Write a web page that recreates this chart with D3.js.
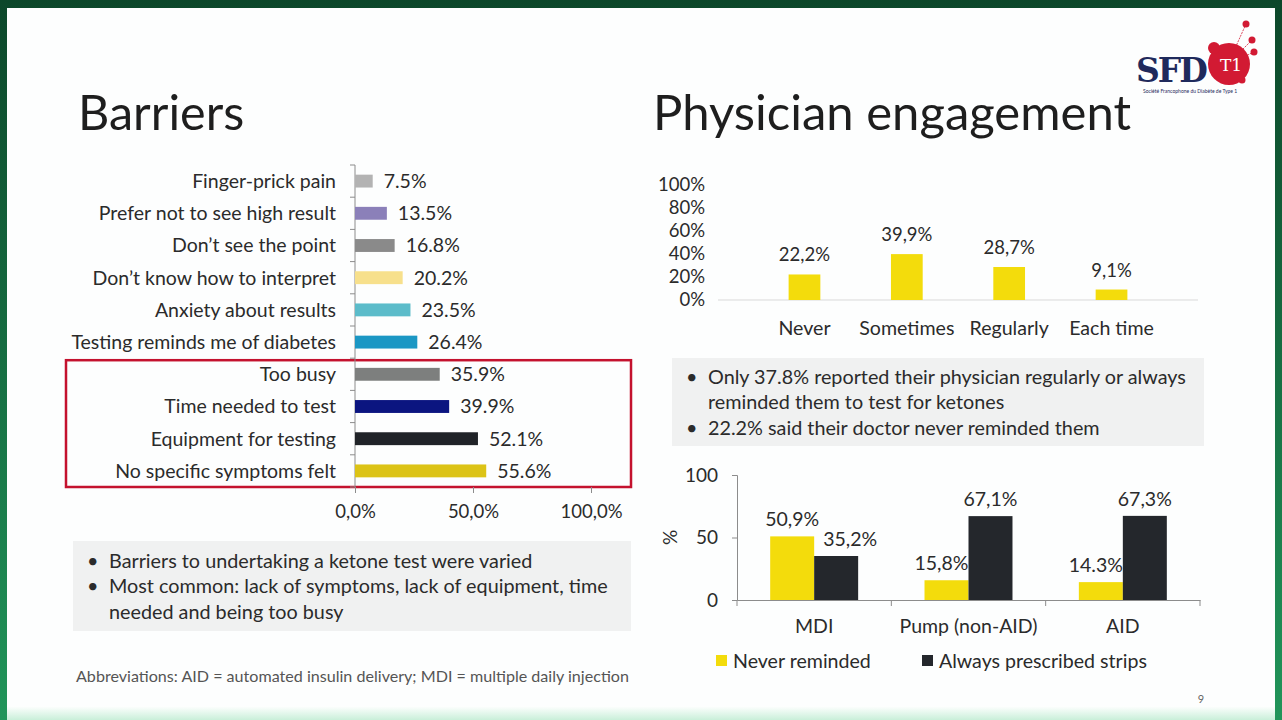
<!DOCTYPE html>
<html>
<head>
<meta charset="utf-8">
<script src="https://cdn.jsdelivr.net/npm/d3@7"></script>
<style>
  html, body { margin: 0; padding: 0; background: #fff; overflow: hidden; }
  svg { display: block; font-family: Lato, "Open Sans", sans-serif; }
</style>
</head>
<body>
<div id="slide"></div>
<script>
// Barriers (left chart)
var barrierNames = ["Finger-prick pain", "Prefer not to see high result", "Don\u2019t see the point",
    "Don\u2019t know how to interpret", "Anxiety about results", "Testing reminds me of diabetes",
    "Too busy", "Time needed to test", "Equipment for testing", "No specific symptoms felt"];
var barrierValues = [7.5, 13.5, 16.8, 20.2, 23.5, 26.4, 35.9, 39.9, 52.1, 55.6];
var barrierColors = ["#b3b3b3", "#8b80b9", "#8a8a8a", "#f7e08c", "#5cbcca", "#1b97c4",
    "#7d7f7e", "#0b1580", "#202328", "#dcc316"];
var barrierTicks = [0, 50, 100];
var highlighted = ["Too busy", "Time needed to test", "Equipment for testing", "No specific symptoms felt"];

// Physician engagement (top right)
var remindCats = ["Never", "Sometimes", "Regularly", "Each time"];
var remindValues = [22.2, 39.9, 28.7, 9.1];
var remindLabels = ["22,2%", "39,9%", "28,7%", "9,1%"];
var remindTicks = [0, 20, 40, 60, 80, 100];

// By insulin delivery (bottom right)
var deliveryCats = ["MDI", "Pump (non-AID)", "AID"];
var seriesNames = ["Never reminded", "Always prescribed strips"];
var neverReminded = [50.9, 15.8, 14.3];
var alwaysStrips = [35.2, 67.1, 67.3];
var neverLabels = ["50,9%", "15,8%", "14.3%"];
var alwaysLabels = ["35,2%", "67,1%", "67,3%"];
var seriesColors = ["#f3dc0c", "#24272c"];
var deliveryTicks = [0, 50, 100];

var leftBullets = [
    ["Barriers to undertaking a ketone test were varied"],
    ["Most common: lack of symptoms, lack of equipment, time", "needed and being too busy"]];
var rightBullets = [
    ["Only 37.8% reported their physician regularly or always", "reminded them to test for ketones"],
    ["22.2% said their doctor never reminded them"]];

var W = 1282, H = 720;
var textColor = "#2b2b2b";

var svg = d3.select("#slide").append("svg")
    .attr("width", W)
    .attr("height", H);

// slide frame
var defs = svg.append("defs");
var sideGrad = defs.append("linearGradient").attr("id", "sideGrad")
    .attr("x1", 0).attr("y1", 0).attr("x2", 0).attr("y2", 1);
sideGrad.append("stop").attr("offset", "0%").attr("stop-color", "#0c472a");
sideGrad.append("stop").attr("offset", "100%").attr("stop-color", "#21955a");
var bottomGrad = defs.append("linearGradient").attr("id", "bottomGrad")
    .attr("x1", 0).attr("y1", 0).attr("x2", 0).attr("y2", 1);
bottomGrad.append("stop").attr("offset", "0%").attr("stop-color", "#ffffff");
bottomGrad.append("stop").attr("offset", "100%").attr("stop-color", "#c9efd9");

svg.append("rect").attr("width", W).attr("height", H).attr("fill", "url(#sideGrad)");
svg.append("rect").attr("x", 7).attr("y", 8).attr("width", W - 14).attr("height", H - 8).attr("fill", "#fdfefe");
svg.append("rect").attr("x", 7).attr("y", 706).attr("width", W - 14).attr("height", 14).attr("fill", "url(#bottomGrad)");

// titles
svg.append("text").attr("x", 78).attr("y", 130)
    .style("font-size", "48.5px").style("fill", "#1e1e1e").text("Barriers");
svg.append("text").attr("x", 653).attr("y", 130)
    .style("font-size", "49px").style("fill", "#1e1e1e").text("Physician engagement");

// logo
var logo = svg.append("g").attr("class", "logo");
var spokes = [[1246, 24], [1254, 52], [1242, 80], [1252, 40]];
spokes.forEach(function(p) {
    logo.append("line").attr("x1", 1228).attr("y1", 64).attr("x2", p[0]).attr("y2", p[1])
        .attr("stroke", "#d21a33").attr("stroke-width", 0.8).attr("stroke-dasharray", "2,1");
    logo.append("circle").attr("cx", p[0]).attr("cy", p[1]).attr("r", 3.5).attr("fill", "#d21a33");
});
logo.append("circle").attr("cx", 1229).attr("cy", 64).attr("r", 21).attr("fill", "#d21a33");
logo.append("circle").attr("cx", 1214).attr("cy", 48).attr("r", 6).attr("fill", "#d21a33");
logo.append("text").attr("x", 1136).attr("y", 82)
    .style("font-family", "'DejaVu Serif', serif").style("font-weight", "bold")
    .style("font-size", "33px").style("fill", "#1f2a5c").style("letter-spacing", "-2px").text("SFD");
logo.append("text").attr("x", 1231).attr("y", 71).attr("text-anchor", "middle")
    .style("font-family", "'DejaVu Serif', serif").style("font-size", "17px")
    .style("fill", "#fff").text("T1");
logo.append("text").attr("x", 1143).attr("y", 93)
    .style("font-size", "5px").style("fill", "#1f2a5c")
    .text("Soci\u00e9t\u00e9 Francophone du Diab\u00e8te de Type 1");

// ---------- Barriers chart ----------
var bTop = 165, bBottom = 487, bLeft = 355;
var by = d3.scaleBand()
    .domain(barrierNames)
    .range([bTop, bBottom])
    .paddingInner(0.6)
    .paddingOuter(0.3);
var bx = d3.scaleLinear().domain([0, 100]).range([bLeft, 591]);

var bg = svg.append("g").attr("class", "barriers");

// red highlight box
var boxTop = by(highlighted[0]) - by.step() * 0.3 + 2;
bg.append("rect")
    .attr("x", 66).attr("y", boxTop)
    .attr("width", 565).attr("height", bBottom - boxTop)
    .attr("fill", "none").attr("stroke", "#c4122e").attr("stroke-width", 2.5);

// category axis line with ticks between categories
bg.append("line").attr("x1", bLeft).attr("x2", bLeft).attr("y1", bTop).attr("y2", bBottom)
    .attr("stroke", "#8c8c8c").attr("stroke-width", 1);
d3.range(barrierNames.length + 1).forEach(function(i) {
    var yy = bTop + i * by.step();
    bg.append("line").attr("x1", bLeft - 5).attr("x2", bLeft).attr("y1", yy).attr("y2", yy)
        .attr("stroke", "#8c8c8c");
});

bg.selectAll("rect.bar")
    .data(barrierValues)
    .enter()
    .append("rect")
    .attr("class", "bar")
    .attr("x", bx(0))
    .attr("y", function(d, i) { return by(barrierNames[i]); })
    .attr("width", function(d) { return bx(d) - bx(0); })
    .attr("height", by.bandwidth())
    .attr("fill", function(d, i) { return barrierColors[i]; });

bg.selectAll("text.cat")
    .data(barrierNames)
    .enter()
    .append("text")
    .attr("class", "cat")
    .attr("x", 336)
    .attr("y", function(d) { return by(d) + by.bandwidth() / 2; })
    .attr("dy", "0.35em")
    .attr("text-anchor", "end")
    .style("font-size", "19.5px").style("fill", textColor)
    .text(function(d) { return d; });

bg.selectAll("text.val")
    .data(barrierValues)
    .enter()
    .append("text")
    .attr("class", "val")
    .attr("x", function(d) { return bx(d) + 11; })
    .attr("y", function(d, i) { return by(barrierNames[i]) + by.bandwidth() / 2; })
    .attr("dy", "0.35em")
    .style("font-size", "19.5px").style("fill", textColor)
    .text(function(d) { return d.toFixed(1) + "%"; });

var bxAxis = bg.append("g")
    .attr("transform", "translate(0," + bBottom + ")")
    .call(d3.axisBottom(bx).tickValues(barrierTicks).tickSize(6).tickPadding(12)
        .tickFormat(function(d) { return d3.format(".1f")(d).replace(".", ",") + "%"; }));
bxAxis.select(".domain").remove();
bxAxis.selectAll("line").attr("stroke", "#8c8c8c");
bxAxis.selectAll("text").style("font-size", "18.5px").style("fill", textColor)
    .style("font-family", "Lato, sans-serif");

// ---------- bullet boxes ----------
function bulletBox(x, y, w, h, items, firstY) {
    var g = svg.append("g");
    g.append("rect").attr("x", x).attr("y", y).attr("width", w).attr("height", h).attr("fill", "#f0f1f1");
    var line = 0;
    items.forEach(function(item) {
        g.append("text").attr("x", x + 14).attr("y", firstY + line * 25.3)
            .attr("dy", "0.35em").style("font-size", "19.8px").style("fill", textColor).text("\u2022");
        item.forEach(function(t) {
            g.append("text").attr("x", x + 36).attr("y", firstY + line * 25.3)
                .attr("dy", "0.35em").style("font-size", "19.8px").style("fill", textColor).text(t);
            line++;
        });
    });
}
bulletBox(73, 541, 558, 90, leftBullets, 561);
bulletBox(672, 358, 532, 88, rightBullets, 377);

svg.append("text").attr("x", 76).attr("y", 676).attr("dy", "0.35em")
    .style("font-size", "16.1px").style("fill", "#555")
    .text("Abbreviations: AID = automated insulin delivery; MDI = multiple daily injection");
svg.append("text").attr("x", 1201).attr("y", 699).attr("dy", "0.35em").attr("text-anchor", "middle")
    .style("font-size", "11px").style("fill", "#666").text("9");

// ---------- Physician engagement chart ----------
var rx = d3.scaleBand().domain(remindCats).range([718, 1198]).padding(0.69);
var ry = d3.scaleLinear().domain([0, 100]).range([300, 185]);
var rg = svg.append("g").attr("class", "remind");

rg.append("line").attr("x1", 718).attr("x2", 1198).attr("y1", ry(0)).attr("y2", ry(0))
    .attr("stroke", "#d9d9d9").attr("stroke-width", 1);

rg.selectAll("rect")
    .data(remindValues)
    .enter()
    .append("rect")
    .attr("x", function(d, i) { return rx(remindCats[i]); })
    .attr("y", function(d) { return ry(d); })
    .attr("width", rx.bandwidth())
    .attr("height", function(d) { return ry(0) - ry(d); })
    .attr("fill", "#f3dc0c");

rg.selectAll("text.val")
    .data(remindValues)
    .enter()
    .append("text")
    .attr("class", "val")
    .attr("x", function(d, i) { return rx(remindCats[i]) + rx.bandwidth() / 2; })
    .attr("y", function(d) { return ry(d) - 13; })
    .attr("text-anchor", "middle")
    .style("font-size", "18.5px").style("fill", textColor)
    .text(function(d, i) { return remindLabels[i]; });

var ryAxis = rg.append("g")
    .attr("transform", "translate(718,0)")
    .call(d3.axisLeft(ry).tickValues(remindTicks).tickSize(0).tickPadding(13)
        .tickFormat(function(d) { return d + "%"; }));
ryAxis.select(".domain").remove();
ryAxis.selectAll("text").style("font-size", "18.5px").style("fill", textColor)
    .style("font-family", "Lato, sans-serif");

var rxAxis = rg.append("g")
    .attr("transform", "translate(0," + ry(0) + ")")
    .call(d3.axisBottom(rx).tickSize(0).tickPadding(21));
rxAxis.select(".domain").remove();
rxAxis.selectAll("text").style("font-size", "19.6px").style("fill", textColor)
    .style("font-family", "Lato, sans-serif");

// ---------- By delivery method chart ----------
var dx0 = d3.scaleBand().domain(deliveryCats).range([737, 1200]).paddingInner(0.43).paddingOuter(0.215);
var dx1 = d3.scaleBand().domain(seriesNames).range([0, dx0.bandwidth()]);
var dy = d3.scaleLinear().domain([0, 100]).range([600, 475]);
var dg = svg.append("g").attr("class", "delivery");

var seriesValues = [neverReminded, alwaysStrips];
var seriesLabels = [neverLabels, alwaysLabels];
var labelNodes = [[], []];

seriesNames.forEach(function(s, si) {
    dg.selectAll("rect.s" + si)
        .data(seriesValues[si])
        .enter()
        .append("rect")
        .attr("class", "s" + si)
        .attr("x", function(d, i) { return dx0(deliveryCats[i]) + dx1(s); })
        .attr("y", function(d) { return dy(d); })
        .attr("width", dx1.bandwidth())
        .attr("height", function(d) { return dy(0) - dy(d); })
        .attr("fill", seriesColors[si]);

    dg.selectAll("text.l" + si)
        .data(seriesValues[si])
        .enter()
        .append("text")
        .attr("class", "l" + si)
        .attr("x", function(d, i) { return dx0(deliveryCats[i]) + dx1(s) + dx1.bandwidth() / 2; })
        .attr("y", function(d) { return dy(d) - 10; })
        .attr("text-anchor", "middle")
        .style("font-size", "19.5px").style("fill", textColor)
        .text(function(d, i) { return seriesLabels[si][i]; })
        .each(function(d, i) { labelNodes[si][i] = this; });
});

// keep labels clear of neighbouring labels and of the taller bar next to them
deliveryCats.forEach(function(c, i) {
    var a = labelNodes[0][i].getBBox(), b = labelNodes[1][i].getBBox();
    var overlapY = a.y < b.y + b.height && b.y < a.y + a.height;
    var gap = a.x + a.width + 4 - b.x;
    if (overlapY && gap > 0) {
        var n = d3.select(labelNodes[1][i]);
        n.attr("x", +n.attr("x") + gap);
    }
    var barEdge = dx0(c) + dx1(seriesNames[1]);
    if (dy(alwaysStrips[i]) < a.y + a.height && a.x + a.width > barEdge) {
        var m = d3.select(labelNodes[0][i]);
        m.attr("x", +m.attr("x") - (a.x + a.width - barEdge));
    }
});

var dyAxis = dg.append("g")
    .attr("transform", "translate(737,0)")
    .call(d3.axisLeft(dy).tickValues(deliveryTicks).tickSize(5).tickPadding(14));
dyAxis.select(".domain").attr("stroke", "#8c8c8c");
dyAxis.selectAll("line").attr("stroke", "#8c8c8c");
dyAxis.selectAll("text").style("font-size", "19px").style("fill", textColor)
    .style("font-family", "Lato, sans-serif");

var dxAxis = dg.append("g")
    .attr("transform", "translate(0," + dy(0) + ")")
    .call(d3.axisBottom(dx0).tickSize(0).tickPadding(19));
dxAxis.select(".domain").attr("stroke", "#8c8c8c");
dxAxis.selectAll("text").style("font-size", "19.5px").style("fill", textColor)
    .style("font-family", "Lato, sans-serif");
// ticks at the category boundaries
d3.range(deliveryCats.length + 1).forEach(function(i) {
    var xx = 737 + i * dx0.step();
    dg.append("line").attr("x1", xx).attr("x2", xx).attr("y1", dy(0)).attr("y2", dy(0) + 6)
        .attr("stroke", "#8c8c8c");
});

dg.append("text")
    .attr("transform", "translate(670," + dy(50) + ") rotate(-90)")
    .attr("text-anchor", "middle").attr("dy", "0.35em")
    .style("font-size", "19px").style("fill", textColor).text("%");

// legend
var legendX = [716, 922];
seriesNames.forEach(function(s, i) {
    dg.append("rect").attr("x", legendX[i]).attr("y", 655).attr("width", 11).attr("height", 11)
        .attr("fill", seriesColors[i]);
    dg.append("text").attr("x", legendX[i] + 17).attr("y", 661).attr("dy", "0.35em")
        .style("font-size", "19.6px").style("fill", textColor).text(s);
});
</script>
</body>
</html>
